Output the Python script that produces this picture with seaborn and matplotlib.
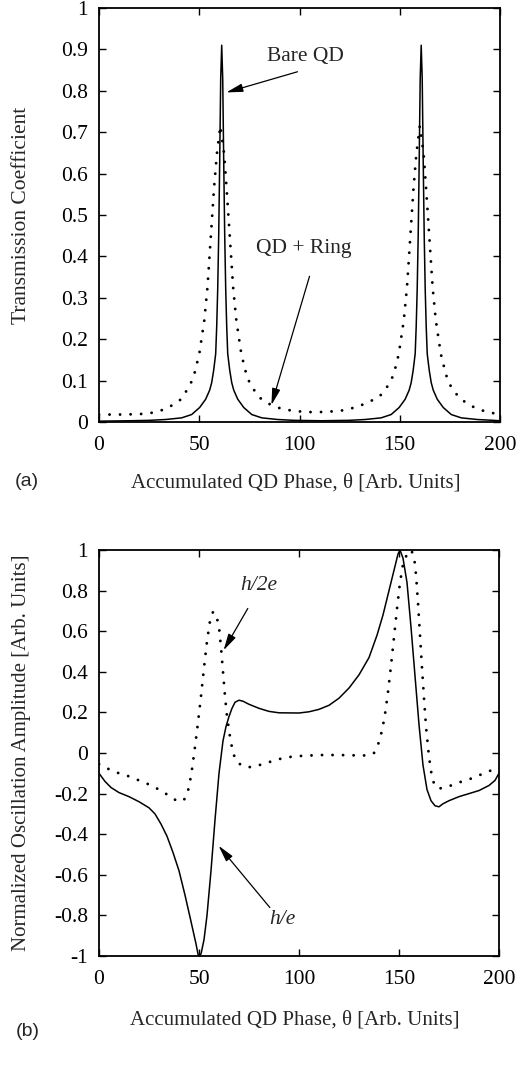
import matplotlib
matplotlib.use("Agg")
import matplotlib.pyplot as plt
import seaborn as sns

# (a) transmission coefficient
bare_x = [0, 15.2, 25.2, 33.2, 41.2, 46.2, 50.2, 53.2, 55.2, 56.2, 57.2, 58.2, 58.7, 59.2, 59.7,
          60.2, 60.7, 61.2, 61.7, 62.2, 62.7, 63.2, 63.7, 64.2, 65.2, 66.2, 67.2, 69.2, 72.2,
          76.2, 81.2, 89.2, 97.2, 110.9,
          124.7, 132.7, 140.7, 145.7, 149.7, 152.7, 154.7, 155.7, 156.7, 157.7, 158.2, 158.7,
          159.2, 159.7, 160.2, 160.7, 161.2, 161.7, 162.2, 162.7, 163.2, 163.7, 164.7, 165.7,
          166.7, 168.7, 171.7, 175.7, 180.7, 188.7, 196.7, 200]
bare_y = [0.002, 0.003, 0.004, 0.006, 0.01, 0.018, 0.035, 0.055, 0.077, 0.095, 0.125, 0.165, 0.23,
          0.32, 0.45, 0.63, 0.83, 0.91, 0.83, 0.63, 0.45, 0.32, 0.23, 0.165, 0.125, 0.095, 0.077,
          0.055, 0.035, 0.018, 0.01, 0.006, 0.004, 0.003,
          0.004, 0.006, 0.01, 0.018, 0.035, 0.055, 0.077, 0.095, 0.125, 0.165, 0.23, 0.32,
          0.45, 0.63, 0.83, 0.91, 0.83, 0.63, 0.45, 0.32, 0.23, 0.165, 0.125, 0.095,
          0.077, 0.055, 0.035, 0.018, 0.01, 0.006, 0.004, 0.003]

ring_x = [0, 10, 20, 25, 30, 35, 41, 45.5, 47.5, 50, 52.5, 54.1, 55.2, 56.3, 57.4, 58.8, 60.5,
          62.4, 63.6, 64.7, 65.8, 66.9, 68.5, 71, 73.5, 75.5, 80, 85.5, 91.5, 98.5, 105, 110,
          115, 121.5, 128.5, 134.5, 140, 144.5, 147, 149.5, 152, 153.6, 154.7, 155.8, 156.9,
          158.3, 160, 161.9, 163.1, 164.2, 165.3, 166.4, 168, 170.5, 173, 175, 179.5, 185, 191,
          196, 200]
ring_y = [0.018, 0.018, 0.019, 0.021, 0.026, 0.036, 0.055, 0.09, 0.115, 0.164, 0.245, 0.325,
          0.406, 0.487, 0.567, 0.648, 0.715, 0.648, 0.567, 0.487, 0.406, 0.325, 0.245, 0.164,
          0.115, 0.09, 0.059, 0.042, 0.031, 0.026, 0.024, 0.024,
          0.025, 0.028, 0.036, 0.048, 0.062, 0.09, 0.115, 0.164, 0.245, 0.325, 0.406, 0.487,
          0.567, 0.648, 0.715, 0.648, 0.567, 0.487, 0.406, 0.325, 0.245, 0.164, 0.115, 0.09,
          0.059, 0.04, 0.028, 0.022, 0.018]

# (b) normalized oscillation amplitude
he_x = [0, 3, 6, 10, 15, 20, 25, 28, 31, 34, 37, 40, 43, 46, 48.5, 49.7, 51, 52.5, 54, 56, 58,
        60, 62, 63.5, 65, 66.5, 68, 70, 72, 75, 80, 85, 90, 100, 105, 110, 115, 120, 125, 130,
        135, 139, 142, 145, 147.5, 149.5, 150.5, 152, 154, 156, 158, 160, 162, 164, 166, 168,
        170, 172, 175, 180, 185, 190, 195, 198, 200]
he_y = [-0.10, -0.14, -0.17, -0.195, -0.215, -0.24, -0.27, -0.30, -0.35, -0.41, -0.49, -0.58,
        -0.70, -0.83, -0.94, -1.0, -0.99, -0.92, -0.80, -0.58, -0.33, -0.10, 0.06, 0.13, 0.18,
        0.22, 0.25, 0.26, 0.255, 0.24, 0.22, 0.205, 0.198, 0.197, 0.203, 0.215, 0.235, 0.27,
        0.32, 0.385, 0.47, 0.58, 0.68, 0.80, 0.90, 0.98, 1.0, 0.96, 0.84, 0.62, 0.38, 0.14,
        -0.06, -0.18, -0.235, -0.26, -0.265, -0.25, -0.235, -0.215, -0.2, -0.185, -0.16,
        -0.135, -0.10]

h2e_x = [0, 5, 10, 15, 20, 25, 30, 35, 38, 41, 43, 45, 46.5, 48, 49.5, 51, 52.5, 54, 55.5, 57,
         58.5, 60, 61, 62, 63, 64, 65.5, 67, 69, 72, 76, 80, 85, 90, 95, 100, 110, 120, 130,
         135, 137.5, 139.5, 141.5, 143, 144.5, 146, 147.5, 149, 150.5, 152, 154, 156, 157.5,
         158.5, 159.5, 160.5, 161.5, 162.5, 163.5, 165, 166.5, 168, 170, 173, 176, 180, 185,
         190, 195, 200]
h2e_y = [-0.055, -0.08, -0.1, -0.115, -0.135, -0.155, -0.18, -0.21, -0.23, -0.24, -0.225,
         -0.17, -0.08, 0.03, 0.15, 0.28, 0.42, 0.55, 0.65, 0.695, 0.685, 0.62, 0.52, 0.4, 0.28,
         0.18, 0.08, 0.0, -0.045, -0.065, -0.07, -0.06, -0.045, -0.03, -0.02, -0.015, -0.01,
         -0.01, -0.012, -0.012, 0.0, 0.04, 0.11, 0.19, 0.3, 0.43, 0.57, 0.71, 0.84, 0.93, 0.98,
         1.0, 0.97, 0.88, 0.74, 0.58, 0.42, 0.27, 0.13, -0.02, -0.12, -0.165, -0.175, -0.17,
         -0.16, -0.145, -0.13, -0.11, -0.09, -0.07]

top_yticks = [0, 0.1, 0.2, 0.3, 0.4, 0.5, 0.6, 0.7, 0.8, 0.9, 1]
top_ylabels = ["0", "0.1", "0.2", "0.3", "0.4", "0.5", "0.6", "0.7", "0.8", "0.9", "1"]
bot_yticks = [-1, -0.8, -0.6, -0.4, -0.2, 0, 0.2, 0.4, 0.6, 0.8, 1]
bot_ylabels = ["-1", "-0.8", "-0.6", "-0.4", "-0.2", "0", "0.2", "0.4", "0.6", "0.8", "1"]
xticks = [0, 50, 100, 150, 200]
xlabel = "Accumulated QD Phase, \u03b8 [Arb. Units]"

sns.set_style("ticks")
plt.rcParams['font.family'] = ['Liberation Serif', 'DejaVu Serif']
plt.rcParams['axes.unicode_minus'] = False

W, H = 532, 1066
fig = plt.figure(figsize=(W / 100, H / 100), dpi=100)
ax1 = fig.add_axes([99 / W, 1 - 422 / H, 401 / W, 414 / H])
ax2 = fig.add_axes([99 / W, 1 - 956 / H, 400 / W, 406 / H])

dotted = dict(color='black', lw=2.1, linestyle=(0, (0.01, 3.6)), dash_capstyle='round')
solid = dict(color='black', lw=1.1)

sns.lineplot(x=bare_x, y=bare_y, ax=ax1, estimator=None, sort=False, **solid)
sns.lineplot(x=ring_x, y=ring_y, ax=ax1, estimator=None, sort=False, **dotted)
sns.lineplot(x=he_x, y=he_y, ax=ax2, estimator=None, sort=False, **solid)
sns.lineplot(x=h2e_x, y=h2e_y, ax=ax2, estimator=None, sort=False, **dotted)


def style_axes(ax, yticks, ylabels, ylim):
    ax.set_xlim(0, 200)
    ax.set_ylim(*ylim)
    ax.set_xticks(xticks)
    ax.set_xticklabels([str(t) for t in xticks])
    ax.set_yticks(yticks)
    ax.set_yticklabels(ylabels)
    ax.tick_params(direction='in', top=True, right=True, length=5, width=1,
                   labelsize=15.5, colors='black')
    ax.tick_params(axis='x', pad=10)
    ax.tick_params(axis='y', pad=8)
    for sp in ax.spines.values():
        sp.set_linewidth(1.3)
        sp.set_color('black')
    ax.set_xlabel(xlabel, fontsize=15)


style_axes(ax1, top_yticks, top_ylabels, (0, 1))
style_axes(ax2, bot_yticks, bot_ylabels, (-1, 1))

ax1.set_ylabel("Transmission Coefficient", fontsize=15.5)
ax2.set_ylabel("Normalized Oscillation Amplitude [Arb. Units]", fontsize=15)
ax1.yaxis.set_label_coords(-0.17, 0.5)
ax2.yaxis.set_label_coords(-0.17, 0.5)
ax1.xaxis.set_label_coords(0.49, -0.125)
ax2.xaxis.set_label_coords(0.49, -0.135)

arrow = dict(arrowstyle='-|>,head_length=1.0,head_width=0.25', color='black', lw=0.9,
             shrinkA=0, shrinkB=0)

ax1.text(103, 0.882, "Bare QD", ha='center', va='center', fontsize=15.5)
ax1.annotate("", xy=(63.5, 0.796), xytext=(99, 0.846), arrowprops=arrow)
ax1.text(102, 0.42, "QD + Ring", ha='center', va='center', fontsize=15.5)
ax1.annotate("", xy=(86, 0.041), xytext=(105, 0.352), arrowprops=arrow)

ax2.text(80, 0.827, "h/2e", ha='center', va='center', fontsize=15.5, style='italic')
ax2.annotate("", xy=(62.3, 0.506), xytext=(74.4, 0.712), arrowprops=arrow)
ax2.text(91.6, -0.82, "h/e", ha='center', va='center', fontsize=15.5, style='italic')
ax2.annotate("", xy=(59.8, -0.457), xytext=(85.4, -0.761), arrowprops=arrow)

fig.text(27 / W, 1 - 482 / H, "(a)", ha='center', va='center', fontsize=14,
         family=['Liberation Sans', 'DejaVu Sans'])
fig.text(28 / W, 1 - 1032 / H, "(b)", ha='center', va='center', fontsize=14,
         family=['Liberation Sans', 'DejaVu Sans'])

fig.savefig("out.png", dpi=100)
